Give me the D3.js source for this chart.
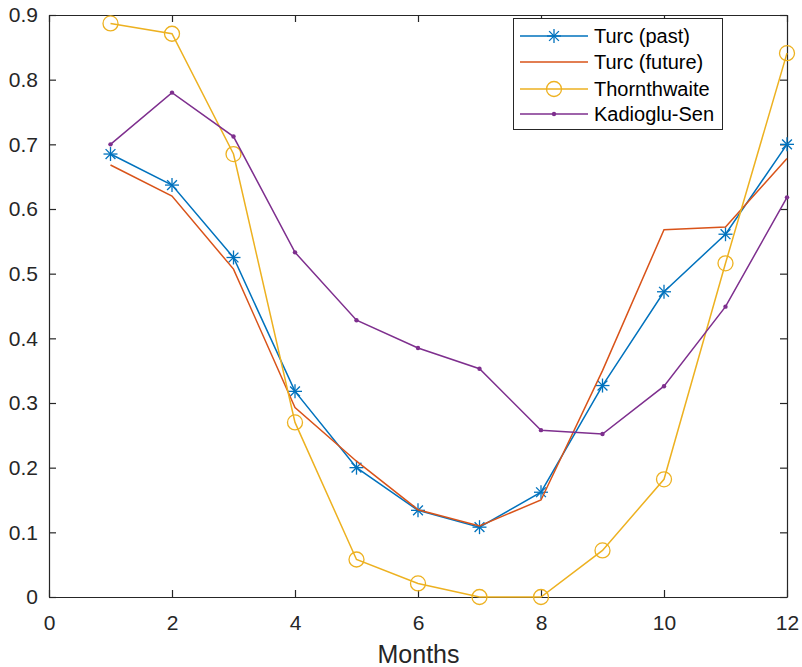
<!DOCTYPE html>
<html>
<head>
<meta charset="UTF-8">
<script src="https://d3js.org/d3.v7.min.js"></script>
<style>
  body { margin: 0; background: #fff; font-family: "Liberation Sans", Arial, sans-serif; }
  .axis text { font-size: 21px; fill: #262626; font-family: "Liberation Sans", Arial, sans-serif; }
  .axis path, .axis line { stroke: #262626; }
</style>
</head>
<body>
<svg width="802" height="667"></svg>
<script>
const months = [1, 2, 3, 4, 5, 6, 7, 8, 9, 10, 11, 12];
const turcPast = [0.685, 0.637, 0.525, 0.318, 0.200, 0.134, 0.108, 0.162, 0.327, 0.472, 0.561, 0.700];
const turcFuture = [0.668, 0.620, 0.507, 0.293, 0.210, 0.135, 0.110, 0.150, 0.350, 0.568, 0.572, 0.678];
const thornthwaite = [0.887, 0.871, 0.685, 0.270, 0.058, 0.021, 0.0, 0.0, 0.072, 0.182, 0.516, 0.841];
const kadiogluSen = [0.700, 0.780, 0.712, 0.533, 0.428, 0.385, 0.353, 0.258, 0.252, 0.326, 0.449, 0.618];
const xTicks = [0, 2, 4, 6, 8, 10, 12];
const yTicks = [0, 0.1, 0.2, 0.3, 0.4, 0.5, 0.6, 0.7, 0.8, 0.9];

const series = [
  { name: "Turc (past)", values: turcPast, color: "#0072BD", marker: "star" },
  { name: "Turc (future)", values: turcFuture, color: "#D95319", marker: "none" },
  { name: "Thornthwaite", values: thornthwaite, color: "#EDB120", marker: "circle" },
  { name: "Kadioglu-Sen", values: kadiogluSen, color: "#7E2F8E", marker: "dot" }
];

const m = { left: 49, right: 787, top: 15, bottom: 597 };
const svg = d3.select("svg");
const x = d3.scaleLinear().domain([0, 12]).range([m.left, m.right]);
const y = d3.scaleLinear().domain([0, 0.9]).range([m.bottom, m.top]);

// box axes with inward ticks
svg.append("g").attr("class", "axis").attr("transform", `translate(0,${m.bottom})`)
  .call(d3.axisBottom(x).tickValues(xTicks).tickSizeInner(-7).tickSizeOuter(0).tickPadding(18).tickFormat(d3.format("d")));
svg.append("g").attr("class", "axis").attr("transform", `translate(0,${m.top})`)
  .call(d3.axisTop(x).tickValues(xTicks).tickSizeInner(-7).tickSizeOuter(0).tickFormat(""));
svg.append("g").attr("class", "axis").attr("transform", `translate(${m.left},0)`)
  .call(d3.axisLeft(y).tickValues(yTicks).tickSizeInner(-7).tickSizeOuter(0).tickPadding(11).tickFormat(d => d === 0 ? "0" : d3.format(".1f")(d)));
svg.append("g").attr("class", "axis").attr("transform", `translate(${m.right},0)`)
  .call(d3.axisRight(y).tickValues(yTicks).tickSizeInner(-7).tickSizeOuter(0).tickFormat(""));
svg.selectAll(".axis .domain").attr("stroke-width", 1.2);
svg.selectAll(".axis .tick line").attr("stroke-width", 1.2);

svg.append("text")
  .attr("x", (m.left + m.right) / 2 + 0.5).attr("y", 663)
  .attr("text-anchor", "middle")
  .style("font-size", "25px").style("fill", "#262626")
  .text("Months");

const line = d3.line().x((d, i) => x(months[i])).y(d => y(d));

function drawMarker(g, type, color, cx, cy) {
  if (type === "star") {
    const r = 7;
    [[-r, 0, r, 0], [0, -r, 0, r], [-r * 0.7, -r * 0.7, r * 0.7, r * 0.7], [-r * 0.7, r * 0.7, r * 0.7, -r * 0.7]]
      .forEach(s => g.append("line")
        .attr("x1", cx + s[0]).attr("y1", cy + s[1]).attr("x2", cx + s[2]).attr("y2", cy + s[3])
        .attr("stroke", color).attr("stroke-width", 1.3));
  } else if (type === "circle") {
    g.append("circle").attr("cx", cx).attr("cy", cy).attr("r", 7.5)
      .attr("fill", "none").attr("stroke", color).attr("stroke-width", 1.3);
  } else if (type === "dot") {
    g.append("circle").attr("cx", cx).attr("cy", cy).attr("r", 2.2).attr("fill", color);
  }
}

const plot = svg.append("g");
series.forEach(s => {
  plot.append("path").datum(s.values)
    .attr("d", line).attr("fill", "none")
    .attr("stroke", s.color).attr("stroke-width", 1.5);
  const mg = plot.append("g");
  s.values.forEach((v, i) => drawMarker(mg, s.marker, s.color, x(months[i]), y(v)));
});

// legend
const lg = svg.append("g");
lg.append("rect").attr("x", 513.5).attr("y", 18.5).attr("width", 209).attr("height", 111)
  .attr("fill", "#fff").attr("stroke", "#262626").attr("stroke-width", 1);
const rowY = [36, 62, 89, 114];
series.forEach((s, i) => {
  lg.append("line").attr("x1", 520).attr("x2", 588).attr("y1", rowY[i]).attr("y2", rowY[i])
    .attr("stroke", s.color).attr("stroke-width", 1.5);
  drawMarker(lg, s.marker, s.color, 554, rowY[i]);
  lg.append("text").attr("x", 594).attr("y", rowY[i]).attr("dy", "0.36em")
    .style("font-size", "20px").style("fill", "#000").text(s.name);
});
</script>
</body>
</html>
